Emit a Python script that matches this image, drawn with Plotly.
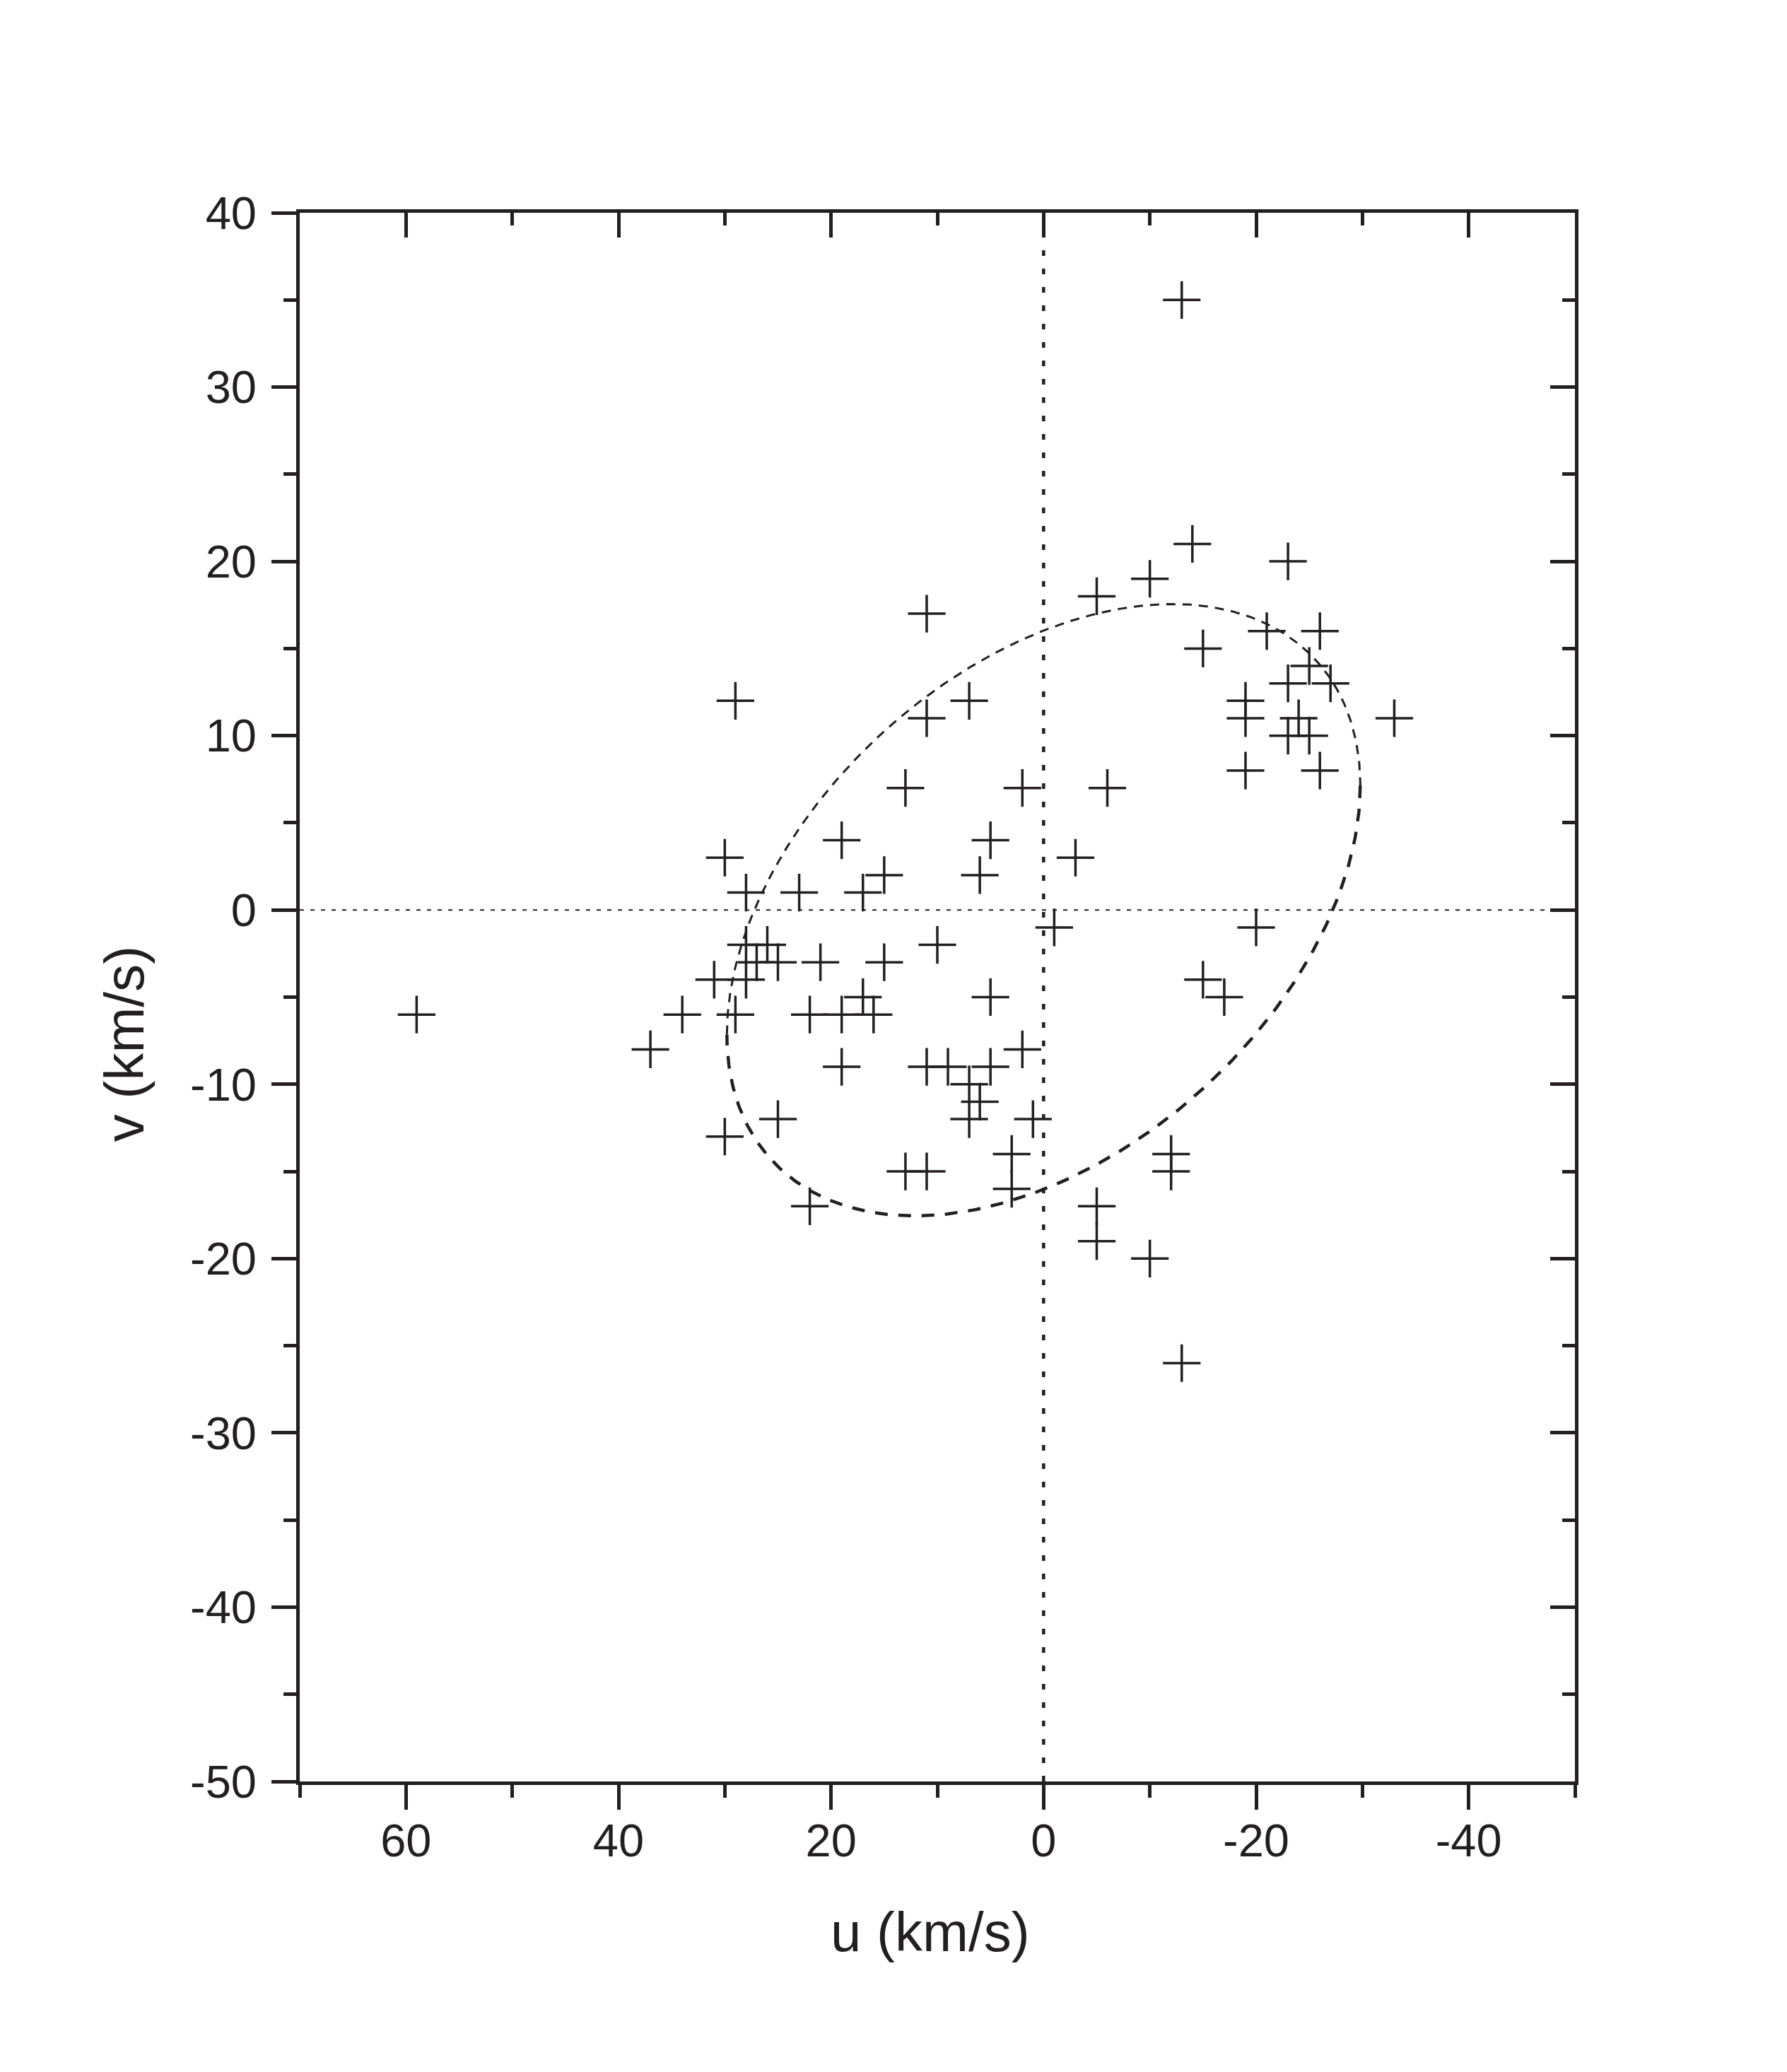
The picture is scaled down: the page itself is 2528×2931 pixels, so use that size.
'''
u-v velocity diagram with velocity ellipse, Plotly version
'''
import numpy as np
import plotly.graph_objects as go

# velocity components of the stars (km/s)
U_KMS = [-13, -14, -23, -10, -5, 11, -21, -26, -15, -25,
         -23, -27, 29, 7, -19, 11, -19, -24, -33, -23,
         -25, -19, -26, 13, 2, -6, 19, 5, 30, -3,
         15, 6, 28, 23, 17, -1, -20, 10, 28, 26,
         27, 25, 21, 15, 31, 28, -15, 17, 5, -17,
         59, 34, 29, 22, 19, 16, 37, 2, 19, 11,
         9, 5, 7, 6, 7, 25, 1, 30, 3, 3,
         13, 11, -12, -12, 22, -5, -5, -10, -13]
V_KMS = [35, 21, 20, 19, 18, 17, 16, 16, 15, 14,
         13, 13, 12, 12, 12, 11, 11, 11, 11, 10,
         10, 8, 8, 7, 7, 7, 4, 4, 3, 3,
         2, 2, 1, 1, 1, -1, -1, -2, -2, -2,
         -3, -3, -3, -3, -4, -4, -4, -5, -5, -5,
         -6, -6, -6, -6, -6, -6, -8, -8, -9, -9,
         -9, -9, -10, -11, -12, -12, -12, -13, -14, -16,
         -15, -15, -14, -15, -17, -17, -19, -20, -26]

# velocity ellipse (centre, extents along u and v, u-v covariance)
ELLIPSE_CENTER = (0.0, 0.0)
ELLIPSE_SIGMA_U = 29.8
ELLIPSE_SIGMA_V = 17.55
ELLIPSE_COV_UV = -213.0

X_RANGE = [70, -50]
Y_RANGE = [-50, 40]
# tick labels use a plain hyphen as in the original, not plotly's unicode minus
X_TICKS = [60, 40, 20, 0, -20, -40]
X_TICK_LABELS = ['60', '40', '20', '0', '-20', '-40']
Y_TICKS = [40, 30, 20, 10, 0, -10, -20, -30, -40, -50]
Y_TICK_LABELS = ['40', '30', '20', '10', '0', '-10', '-20', '-30', '-40', '-50']

INK = '#231f20'
FONT = 'Arial, Liberation Sans, sans-serif'


def ellipse_arc(t0, t1, n=200):
    t = np.linspace(t0, t1, n)
    a = ELLIPSE_COV_UV / ELLIPSE_SIGMA_U
    b = np.sqrt(ELLIPSE_SIGMA_V ** 2 - a ** 2)
    u = ELLIPSE_CENTER[0] + ELLIPSE_SIGMA_U * np.cos(t)
    v = ELLIPSE_CENTER[1] + a * np.cos(t) + b * np.sin(t)
    return u, v


fig = go.Figure()

# upper half of the ellipse is drawn thinner than the lower half in the original
u_up, v_up = ellipse_arc(0, np.pi)
u_lo, v_lo = ellipse_arc(np.pi, 2 * np.pi)
fig.add_trace(go.Scatter(x=u_up, y=v_up, mode='lines', hoverinfo='skip',
                         line=dict(color=INK, width=3, dash='13px,10px')))
fig.add_trace(go.Scatter(x=u_lo, y=v_lo, mode='lines', hoverinfo='skip',
                         line=dict(color=INK, width=4.5, dash='18px,15px')))

fig.add_trace(go.Scatter(
    x=U_KMS, y=V_KMS, mode='markers',
    marker=dict(symbol='cross-thin', size=38, color=INK,
                line=dict(color=INK, width=3.5))
))

# dummy trace so the mirrored top/right axes get drawn
fig.add_trace(go.Scatter(x=[None], y=[None], xaxis='x2', yaxis='y2',
                         showlegend=False, hoverinfo='skip'))

# dotted reference lines through zero
fig.add_shape(type='line', xref='x', yref='paper', x0=0, x1=0, y0=0, y1=1,
              layer='below', line=dict(color=INK, width=4.5, dash='8px,18px'))
fig.add_shape(type='line', xref='paper', yref='y', x0=0, x1=1, y0=0, y1=0,
              layer='below', line=dict(color=INK, width=2, dash='6px,9px'))

tick_font = dict(family=FONT, size=65, color=INK)
common = dict(showgrid=False, zeroline=False, showline=True, linecolor=INK,
              linewidth=5, tickcolor=INK, tickwidth=5, ticklen=35)
x_minor = dict(dtick=10, tick0=0, ticklen=18, tickwidth=5, tickcolor=INK)
y_minor = dict(dtick=5, tick0=0, ticklen=18, tickwidth=5, tickcolor=INK)

fig.update_layout(
    width=2528, height=2931,
    paper_bgcolor='white', plot_bgcolor='white',
    showlegend=False,
    # the page body adds 8px, so margins are trimmed by that much
    margin=dict(l=416, r=308, t=293, b=419),
    xaxis=dict(range=X_RANGE, tickmode='array', tickvals=X_TICKS,
               ticktext=X_TICK_LABELS, ticks='outside',
               tickfont=tick_font, ticklabelstandoff=-12,
               minor=dict(ticks='outside', **x_minor), **common),
    yaxis=dict(range=Y_RANGE, tickmode='array', tickvals=Y_TICKS,
               ticktext=Y_TICK_LABELS, ticks='outside',
               tickfont=tick_font, ticklabelstandoff=8,
               minor=dict(ticks='outside', **y_minor), **common),
    xaxis2=dict(range=X_RANGE, overlaying='x', side='top', tickmode='array',
                tickvals=X_TICKS, ticks='inside', showticklabels=False,
                minor=dict(ticks='inside', **x_minor), **common),
    yaxis2=dict(range=Y_RANGE, overlaying='y', side='right', tickmode='array',
                tickvals=Y_TICKS, ticks='inside', showticklabels=False,
                minor=dict(ticks='inside', **y_minor), **common),
    annotations=[
        dict(text='u (km/s)', xref='paper', yref='paper', x=0.4947, y=-0.0959,
             xanchor='center', yanchor='middle', showarrow=False,
             font=dict(family=FONT, size=78, color=INK)),
        dict(text='v (km/s)', xref='paper', yref='paper', x=-0.137, y=0.4703,
             xanchor='center', yanchor='middle', showarrow=False, textangle=-90,
             font=dict(family=FONT, size=78, color=INK)),
    ],
)

fig.write_html('out.html')
